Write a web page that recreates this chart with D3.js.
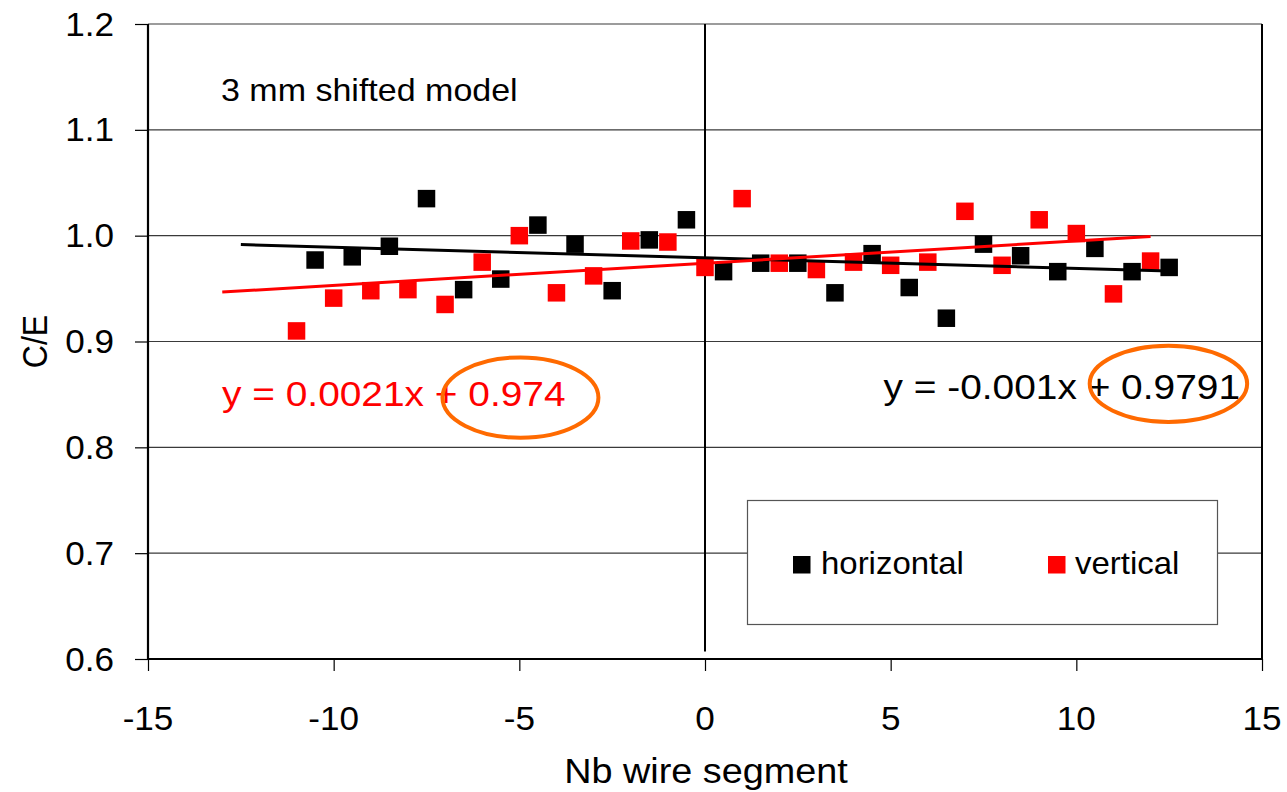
<!DOCTYPE html>
<html>
<head>
<meta charset="utf-8">
<script src="https://cdn.jsdelivr.net/npm/d3@7/dist/d3.min.js"></script>
<style>
  html, body { margin: 0; padding: 0; background: #fff; }
  svg { display: block; }
  text { font-family: "Liberation Sans", Arial, sans-serif; fill: #000; }
</style>
</head>
<body>
<svg id="chart" width="1287" height="792"></svg>
<script>
// ---- data ----
const horizontalX = [-10.5,-9.5,-8.5,-7.5,-6.5,-5.5,-4.5,-3.5,-2.5,-1.5,-0.5,0.5,1.5,2.5,3.5,4.5,5.5,6.5,7.5,8.5,9.5,10.5,11.5,12.5];
const horizontalY = [0.977,0.980,0.990,1.035,0.949,0.959,1.010,0.992,0.948,0.996,1.015,0.966,0.974,0.974,0.946,0.983,0.951,0.922,0.992,0.981,0.966,0.988,0.966,0.970];
const verticalX = [-11,-10,-9,-8,-7,-6,-5,-4,-3,-2,-1,0,1,2,3,4,5,6,7,8,9,10,11,12];
const verticalY = [0.910,0.941,0.948,0.949,0.935,0.975,1.000,0.946,0.962,0.995,0.994,0.970,1.035,0.974,0.968,0.975,0.972,0.975,1.023,0.972,1.015,1.002,0.945,0.976];
// trend lines: [slope, intercept, xStart, xEnd]
const horizontalTrend = [-0.001, 0.9791, -12.5, 12.5];
const verticalTrend = [0.0021, 0.974, -13, 12];
const xTicks = [-15,-10,-5,0,5,10,15];
const yTicks = [0.6,0.7,0.8,0.9,1.0,1.1,1.2];
const xTickLabels = ["-15","-10","-5","0","5","10","15"];
const yTickLabels = ["0.6","0.7","0.8","0.9","1.0","1.1","1.2"];
const seriesNames = ["horizontal","vertical"];
const seriesColors = ["#000000","#ff0000"];
const equationTexts = ["y = -0.001x + 0.9791","y = 0.0021x + 0.974"];
const title = "3 mm shifted model";
const xTitle = "Nb wire segment";
const yTitle = "C/E";
// highlight ellipses: [cx, cy, rx (x units), ry (y units)]
const highlights = [[-4.97, 0.847, 2.1, 0.038],[12.48, 0.860, 2.12, 0.036]];

// ---- layout ----
const svg = d3.select("#chart");
const L = 148, R = 1262, T = 24, B = 659;
const SX = 1.08; // horizontal glyph stretch of the original rendering
const x = d3.scaleLinear().domain([-15, 15]).range([L, R]);
const y = d3.scaleLinear().domain([0.6, 1.2]).range([B, T]);

function label(g, px, py, str, size, anchor, color, rot) {
  return g.append("text")
    .attr("transform", `translate(${px},${py}) scale(${SX},1)` + (rot ? ` rotate(${rot})` : ""))
    .attr("text-anchor", anchor)
    .style("font-size", size + "px")
    .style("fill", color || "#000")
    .text(str);
}

// gridlines
svg.append("g").selectAll("line").data(yTicks.filter(v => v > 0.6)).join("line")
  .attr("x1", L).attr("x2", R)
  .attr("y1", d => y(d)).attr("y2", d => y(d))
  .attr("stroke", "#3a3a3a").attr("stroke-width", 1.2);

// vertical line at x=0
svg.append("line")
  .attr("x1", x(0)).attr("x2", x(0))
  .attr("y1", y(1.2)).attr("y2", y(0.607))
  .attr("stroke", "#000").attr("stroke-width", 2);

// right border
svg.append("line").attr("x1", R).attr("x2", R).attr("y1", T).attr("y2", B)
  .attr("stroke", "#000").attr("stroke-width", 2);

// axes
const yAxis = d3.axisLeft(y).tickValues(yTicks).tickSize(13).tickFormat("");
const gy = svg.append("g").attr("transform", `translate(${L},0)`).call(yAxis);
const xAxis = d3.axisBottom(x).tickValues(xTicks).tickSize(12).tickFormat("");
const gx = svg.append("g").attr("transform", `translate(0,${B})`).call(xAxis);
[gy, gx].forEach(g => {
  g.select(".domain").attr("stroke", "#000").attr("stroke-width", 2.2);
  g.selectAll(".tick line").attr("stroke", "#000").attr("stroke-width", 1.2);
});
gx.select(".domain").attr("d", `M${L},0H${R}`);
gy.select(".domain").attr("d", `M0,${T}V${B}`);

// tick labels
const tl = svg.append("g");
yTicks.forEach((v, i) => label(tl, 114, y(v) + 11.5, yTickLabels[i], 32.5, "end"));
xTicks.forEach((v, i) => label(tl, x(v), 730, xTickLabels[i], 32.5, "middle"));

// axis titles
label(svg, 706, 783, xTitle, 35, "middle");
label(svg, 47, y(0.9), yTitle, 32, "middle", "#000", -90);

// title annotation
label(svg, 221, 101, title, 31.5, "start");

// points
const sq = 17.5;
const pts = svg.append("g");
pts.selectAll("rect.h").data(horizontalX.map((d, i) => [d, horizontalY[i]])).join("rect")
  .attr("class", "h")
  .attr("x", d => x(d[0]) - sq / 2).attr("y", d => y(d[1]) - sq / 2)
  .attr("width", sq).attr("height", sq).attr("fill", seriesColors[0]);
pts.selectAll("rect.v").data(verticalX.map((d, i) => [d, verticalY[i]])).join("rect")
  .attr("class", "v")
  .attr("x", d => x(d[0]) - sq / 2).attr("y", d => y(d[1]) - sq / 2)
  .attr("width", sq).attr("height", sq).attr("fill", seriesColors[1]);

// trend lines
const line = d3.line().x(d => x(d[0])).y(d => y(d[1]));
[[horizontalTrend, seriesColors[0]], [verticalTrend, seriesColors[1]]].forEach(([t, c]) => {
  const pts2 = [t[2], t[3]].map(xx => [xx, t[0] * xx + t[1]]);
  svg.append("path").attr("d", line(pts2)).attr("stroke", c)
    .attr("stroke-width", 3).attr("fill", "none");
});

// equations
label(svg, 222, 406, equationTexts[1], 36, "start", "#ff0000");
label(svg, 1240, 399, equationTexts[0], 36, "end", "#000");

// highlight ellipses
svg.append("g").selectAll("ellipse").data(highlights).join("ellipse")
  .attr("cx", d => x(d[0])).attr("cy", d => y(d[1]))
  .attr("rx", d => x(d[0] + d[2]) - x(d[0]))
  .attr("ry", d => y(d[1] - d[3]) - y(d[1]))
  .attr("fill", "none").attr("stroke", "#ff6a00").attr("stroke-width", 4);

// legend
const lg = svg.append("g");
lg.append("rect").attr("x", 747.5).attr("y", 500.5).attr("width", 470).attr("height", 124)
  .attr("fill", "#fff").attr("stroke", "#555").attr("stroke-width", 1.2);
const legendItems = [[793, 821], [1048, 1075]];
seriesNames.forEach((n, i) => {
  lg.append("rect").attr("x", legendItems[i][0]).attr("y", 556).attr("width", 17.5).attr("height", 17.5)
    .attr("fill", seriesColors[i]);
  label(lg, legendItems[i][1], 574, n, 30.5, "start");
});
</script>
</body>
</html>
